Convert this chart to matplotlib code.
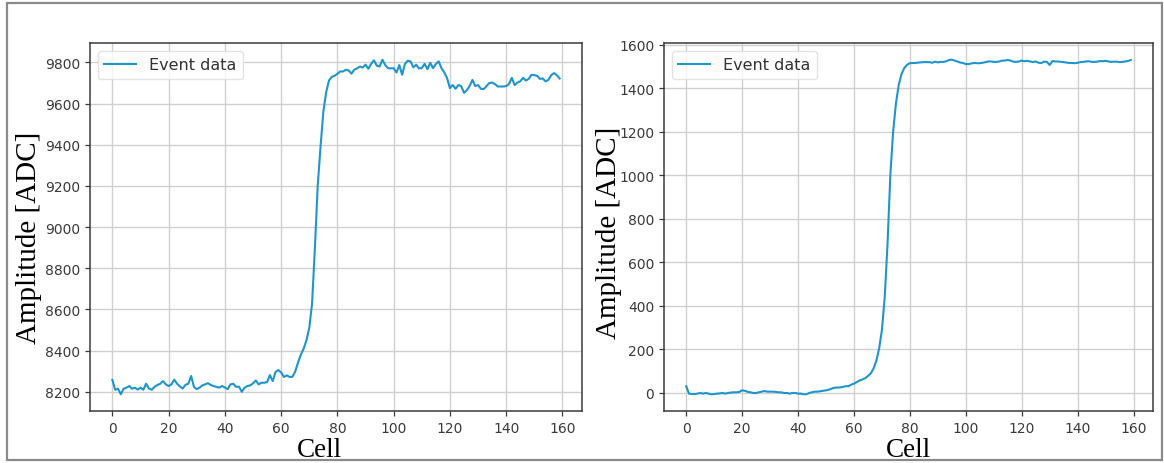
import matplotlib
matplotlib.use("Agg")
import matplotlib.pyplot as plt
from matplotlib.patches import Rectangle

# ---------------- data ----------------
cells = list(range(160))

left_amplitude = [
    8258, 8210, 8215, 8188, 8215, 8220, 8228, 8215, 8220, 8211,
    8220, 8210, 8239, 8216, 8210, 8224, 8233, 8239, 8252, 8236,
    8228, 8236, 8259, 8239, 8226, 8216, 8234, 8239, 8277, 8224,
    8213, 8220, 8231, 8236, 8242, 8233, 8228, 8224, 8220, 8228,
    8221, 8213, 8236, 8239, 8224, 8225, 8200, 8220, 8228, 8231,
    8241, 8255, 8236, 8244, 8244, 8247, 8281, 8252, 8296, 8306,
    8294, 8272, 8280, 8272, 8273, 8298, 8342, 8380, 8410, 8450,
    8510, 8630, 8900, 9200, 9390, 9560, 9655, 9712, 9730, 9735,
    9745, 9756, 9756, 9764, 9761, 9745, 9765, 9771, 9780, 9775,
    9789, 9769, 9793, 9810, 9784, 9780, 9813, 9787, 9772, 9771,
    9772, 9751, 9787, 9740, 9792, 9808, 9805, 9776, 9789, 9771,
    9772, 9793, 9767, 9798, 9772, 9792, 9805, 9772, 9751, 9723,
    9675, 9690, 9672, 9690, 9685, 9652, 9665, 9685, 9715, 9685,
    9690, 9672, 9670, 9685, 9700, 9702, 9695, 9683, 9683, 9683,
    9685, 9695, 9725, 9690, 9702, 9708, 9725, 9712, 9720, 9740,
    9738, 9735, 9720, 9722, 9708, 9715, 9738, 9748, 9738, 9722,
]

right_amplitude = [
    31, -3, -5, -5, -3, 0, -3, 0, -3, -6,
    -5, -3, -2, 0, -3, 0, 2, 3, 3, 5,
    12, 10, 5, 3, 0, 0, 3, 6, 9, 6,
    6, 6, 5, 3, 3, 0, 0, -3, 0, 0,
    -3, -3, -6, -6, 0, 3, 6, 6, 8, 10,
    12, 15, 20, 24, 25, 25, 28, 31, 31, 38,
    43, 50, 57, 62, 68, 78, 90, 112, 148, 205,
    290, 440, 685, 1000, 1200, 1330, 1415, 1465, 1493, 1508,
    1515, 1516, 1516, 1518, 1519, 1520, 1520, 1520, 1517, 1522,
    1519, 1521, 1521, 1524, 1530, 1531, 1527, 1523, 1518, 1516,
    1511, 1511, 1514, 1516, 1515, 1515, 1517, 1520, 1523, 1523,
    1521, 1521, 1523, 1527, 1527, 1530, 1527, 1522, 1521, 1523,
    1527, 1524, 1526, 1523, 1520, 1523, 1517, 1516, 1522, 1521,
    1507, 1525, 1523, 1523, 1521, 1520, 1518, 1516, 1516, 1515,
    1517, 1520, 1521, 1523, 1524, 1521, 1521, 1522, 1525, 1524,
    1526, 1523, 1521, 1522, 1522, 1520, 1521, 1523, 1525, 1530,
]

series_label = "Event data"
x_label = "Cell"
y_label = "Amplitude [ADC]"

# ---------------- figure ----------------
W, H = 1164, 464
fig = plt.figure(figsize=(W / 100, H / 100), dpi=100)

# outer frame of the screenshot
fig.patches.append(Rectangle((7 / W, 1 - 461 / H), (1162 - 7) / W, (461 - 4) / H,
                             transform=fig.transFigure, fill=False,
                             edgecolor="#8a8a8a", linewidth=1.6))

line_color = "#1f95cf"
bottom = 1 - 412 / H
height = (412 - 44) / H
ax1 = fig.add_axes([90 / W, bottom, (582 - 90) / W, height])
ax2 = fig.add_axes([664 / W, bottom, (1153 - 664) / W, height])

settings = ((ax1, left_amplitude, 2, 0.466, 0.474),
            (ax2, right_amplitude, -2, 0.5, 0.488))
for ax, data, pad, xl, yl in settings:
    ax.plot(cells, data, color=line_color, linewidth=1.5, label=series_label)
    ax.grid(True, color="#d0d0d0", linewidth=1.0)
    ax.set_axisbelow(True)
    for s in ax.spines.values():
        s.set_color("#3a3a3a")
        s.set_linewidth(1.1)
    ax.tick_params(colors="#3a3a3a", labelsize=10, length=3.5, width=0.9)
    ax.set_xticks(range(0, 161, 20))
    ax.set_xlabel(x_label, family="Liberation Serif", fontsize=19.5, labelpad=1.5)
    ax.set_ylabel(y_label, family="Liberation Serif", fontsize=21, labelpad=pad)
    ax.xaxis.label.set_x(xl)
    ax.yaxis.label.set_y(yl)
    leg = ax.legend(loc="upper left", fontsize=11.5, framealpha=0.8,
                    edgecolor="#dddddd", fancybox=True)
    for t in leg.get_texts():
        t.set_color("#333333")

ax1.set_yticks(range(8200, 9801, 200))
ax2.set_yticks(range(0, 1601, 200))

fig.savefig("out.png", dpi=100)
